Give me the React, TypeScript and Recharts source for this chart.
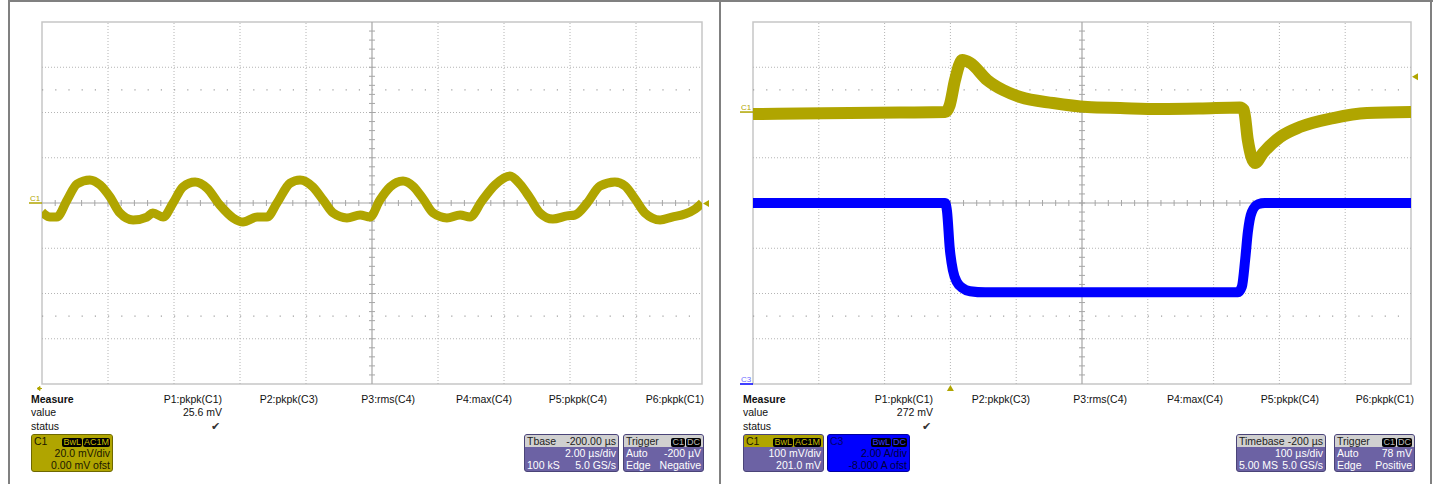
import { LineChart, Line, XAxis, YAxis, ReferenceLine, ReferenceArea, ReferenceDot } from 'recharts';

// left screen: C1, 2 µs/div, 20 mV/div
const leftTime = [
  0, 0.24, 0.45, 0.76, 1.06, 1.45, 1.76, 2.06, 2.36, 2.76, 3.18, 3.36, 3.67, 3.97, 4.27, 4.64, 5.0, 5.39, 5.79, 6.09,
  6.52, 6.82, 7.12, 7.52, 7.82, 8.21, 8.52, 8.82, 9.24, 9.64, 9.94, 10.24, 10.55, 10.94, 11.24, 11.55, 11.85, 12.27, 12.67, 12.97,
  13.33, 13.73, 14.18, 14.48, 14.79, 15.09, 15.48, 15.91, 16.15, 16.52, 16.91, 17.36, 17.67, 17.97, 18.27, 18.73, 19.09, 19.48, 19.79, 20,
];
const leftC1 = [
  -4.0, -6.2, -6.2, 1.3, 8.4, 10.2, 8.0, 2.7, -4.4, -7.5, -6.2, -4.4, -6.2, 0, 7.1, 9.3, 6.6, -0.9, -6.6, -8.4,
  -6.2, -6.2, 0, 8.8, 10.2, 7.1, 1.3, -4.4, -6.6, -5.3, -6.2, 1.3, 7.1, 9.7, 7.5, 1.8, -4.4, -6.6, -5.3, -6.2,
  0.9, 8.0, 11.9, 8.4, 2.2, -4.4, -7.1, -5.7, -5.3, 0, 7.5, 9.3, 7.5, 1.8, -4.4, -7.5, -6.2, -4.9, -2.7, 0,
];

// right screen: C1 (mV) and C3 (A), 100 µs/div
const rightC1Time = [-300, -229, -153, -77, -8, -1, 7, 18, 30, 56, 80, 106, 156, 208, 258, 319, 379, 440, 446, 452, 463, 475, 501, 531, 582, 633, 700];
const rightC1 = [-4.4, -3.3, -2.2, -1.1, 0, 15.5, 70.7, 115, 108.6, 70.7, 48.6, 33.2, 19.9, 11, 8.8, 6.6, 7.7, 9.9, 4.4, -61.9, -112.7, -90.6, -55.3, -33.2, -13.3, -2.2, 0];
const rightC3Time = [-300, -8, -5, -1, 4, 10, 18, 30, 53, 227, 437, 443, 448, 452, 458, 468, 478, 700];
const rightC3 = [8.0, 8.0, 7.6, 6.0, 5.0, 4.5, 4.25, 4.1, 4.05, 4.05, 4.05, 4.3, 5.5, 6.7, 7.6, 7.95, 8.0, 8.0];

const measureNames = ['P1:pkpk(C1)', 'P2:pkpk(C3)', 'P3:rms(C4)', 'P4:max(C4)', 'P5:pkpk(C4)', 'P6:pkpk(C1)'];
const leftValue = '25.6 mV';
const rightValue = '272 mV';

const OLIVE = '#b0a500';
const BLUE = '#0000ff';
const PURPLE = '#6c62a4';
const GRID = '#b4b4b4';
const AXIS = '#a6a6a6';
const FONT = '"Liberation Sans", Arial, sans-serif';

const leftData = leftTime.map((t, i) => ({ t, v: leftC1[i] }));
const rC1Data = rightC1Time.map((t, i) => ({ t, v: rightC1[i] }));
const rC3Data = rightC3Time.map((t, i) => ({ t, v: rightC3[i] }));

const steps = (from: number, to: number, step: number) => {
  const out: number[] = [];
  const n = Math.round((to - from) / step);
  for (let i = 0; i <= n; i++) out.push(+(from + i * step).toFixed(4));
  return out;
};

// scope graticule drawn with reference lines
const graticule = (
  xd: [number, number], yd: [number, number], yAxisId: string | number,
  xDiv: number, yDiv: number, pxX: number, pxY: number,
) => {
  const xc = (xd[0] + xd[1]) / 2;
  const yc = (yd[0] + yd[1]) / 2;
  const hx = (3 / pxX) * xDiv;
  const hy = (3 / pxY) * yDiv;
  const inner = (a: number[]) => a.slice(1, -1);
  return [
    <ReferenceArea key='frame' yAxisId={yAxisId} x1={xd[0]} x2={xd[1]} y1={yd[0]} y2={yd[1]} fill='none' stroke='#c6c6c6' strokeWidth={1.5} />,
    ...inner(steps(xd[0], xd[1], xDiv)).filter(x => Math.abs(x - xc) > 1e-6).map(x => (
      <ReferenceLine key={'gx' + x} yAxisId={yAxisId} x={x} stroke={GRID} strokeDasharray='1 2' />
    )),
    ...inner(steps(yd[0], yd[1], yDiv)).filter(y => Math.abs(y - yc) > 1e-6).map(y => (
      <ReferenceLine key={'gy' + y} yAxisId={yAxisId} y={y} stroke={GRID} strokeDasharray='1 2' />
    )),
    ...[yc - 2.5 * yDiv, yc + 2.5 * yDiv].map(y => (
      <ReferenceLine key={'dots' + y} yAxisId={yAxisId} y={y} stroke='#a0a0a0' strokeWidth={1.2} strokeDasharray={`1.2 ${pxX / 5 - 1.2}`} />
    )),
    <ReferenceLine key='cx' yAxisId={yAxisId} x={xc} stroke={AXIS} strokeWidth={1.2} />,
    <ReferenceLine key='cy' yAxisId={yAxisId} y={yc} stroke={AXIS} strokeWidth={1.2} />,
    ...inner(steps(xd[0], xd[1], xDiv / 5)).map(x => (
      <ReferenceLine key={'mx' + x} yAxisId={yAxisId} segment={[{ x, y: yc - hy }, { x, y: yc + hy }]} stroke={AXIS} />
    )),
    ...inner(steps(yd[0], yd[1], yDiv / 5)).map(y => (
      <ReferenceLine key={'my' + y} yAxisId={yAxisId} segment={[{ x: xc - hx, y }, { x: xc + hx, y }]} stroke={AXIS} />
    )),
  ];
};

const triLeft = (color: string) => (p: any) => (
  <path d={`M${p.cx + 1},${p.cy} L${p.cx + 7},${p.cy - 3.5} L${p.cx + 7},${p.cy + 3.5} Z`} fill={color} />
);
const triUp = (p: any) => (
  <path d={`M${p.cx},${p.cy + 1} L${p.cx - 3.5},${p.cy + 7} L${p.cx + 3.5},${p.cy + 7} Z`} fill={OLIVE} />
);
const chanMark = (name: string, color: string, textColor: string) => (p: any) => (
  <g>
    <text x={p.cx - 12} y={p.cy - 2} fontSize={8} fill={textColor} fontFamily={FONT}>{name}</text>
    <line x1={p.cx - 13} x2={p.cx} y1={p.cy} y2={p.cy} stroke={color} strokeWidth={1.5} />
  </g>
);
const arrowLeft = (p: any) => (
  <g fill={OLIVE} stroke={OLIVE}>
    <path d={`M${p.cx - 5},${p.cy + 4.5} L${p.cx - 2},${p.cy + 2.5} L${p.cx - 2},${p.cy + 6.5} Z`} />
    <line x1={p.cx - 3} x2={p.cx} y1={p.cy + 4.5} y2={p.cy + 4.5} strokeWidth={1} />
  </g>
);

const LeftScope = () => (
  <LineChart width={720} height={400} margin={{ top: 22, right: 18, bottom: 16, left: 42 }} data={leftData}>
    <XAxis dataKey='t' type='number' domain={[0, 20]} hide allowDataOverflow />
    <YAxis yAxisId='c1' type='number' domain={[-80, 80]} hide allowDataOverflow />
    {graticule([0, 20], [-80, 80], 'c1', 2, 20, 66, 45.25)}
    <Line yAxisId='c1' dataKey='v' type='monotone' stroke={OLIVE} strokeWidth={9} strokeLinejoin='round' dot={false} isAnimationActive={false} />
    <ReferenceDot yAxisId='c1' x={20} y={-0.2} r={0} shape={triLeft(OLIVE)} />
    <ReferenceDot yAxisId='c1' x={0} y={0} r={0} shape={chanMark('C1', OLIVE, OLIVE)} />
    <ReferenceDot yAxisId='c1' x={0} y={-80} r={0} shape={arrowLeft} />
  </LineChart>
);

const RightScope = () => (
  <LineChart width={717} height={400} margin={{ top: 22, right: 26, bottom: 16, left: 33 }}>
    <XAxis dataKey='t' type='number' domain={[-300, 700]} hide allowDataOverflow />
    <YAxis yAxisId='c1' type='number' domain={[-601, 199]} hide allowDataOverflow />
    <YAxis yAxisId='c3' type='number' domain={[0, 16]} hide allowDataOverflow />
    {graticule([-300, 700], [-601, 199], 'c1', 100, 100, 65.8, 45.25)}
    <Line yAxisId='c1' data={rC1Data} dataKey='v' type='monotone' stroke={OLIVE} strokeWidth={12} strokeLinejoin='round' dot={false} isAnimationActive={false} />
    <Line yAxisId='c3' data={rC3Data} dataKey='v' type='monotone' stroke={BLUE} strokeWidth={10} strokeLinejoin='round' dot={false} isAnimationActive={false} />
    <ReferenceDot yAxisId='c1' x={700} y={78} r={0} shape={triLeft(OLIVE)} />
    <ReferenceDot yAxisId='c1' x={0} y={-601} r={0} shape={triUp} />
    <ReferenceDot yAxisId='c1' x={-300} y={0} r={0} shape={chanMark('C1', OLIVE, OLIVE)} />
    <ReferenceDot yAxisId='c3' x={-300} y={0} r={0} shape={chanMark('C3', BLUE, '#6a6aff')} />
  </LineChart>
);

const abs = (left: number, top: number, extra: object = {}) => ({ position: 'absolute' as const, left, top, ...extra });

const Measure = ({ x, ends, value }: { x: number; ends: number[]; value: string }) => (
  <>
    <div style={abs(x, 393, { fontWeight: 'bold', lineHeight: '13px' })}>Measure</div>
    <div style={abs(x, 406, { lineHeight: '13px' })}>value</div>
    <div style={abs(x, 419.5, { lineHeight: '13px' })}>status</div>
    {measureNames.map((n, i) => (
      <div key={n} style={abs(ends[i] - 100, 393, { width: 100, textAlign: 'right', lineHeight: '13px' })}>{n}</div>
    ))}
    <div style={abs(ends[0] - 100, 406, { width: 100, textAlign: 'right', lineHeight: '13px' })}>{value}</div>
    <div style={abs(ends[0] - 102, 419.5, { width: 100, textAlign: 'right', lineHeight: '13px', color: '#333' })}>✔</div>
  </>
);

type BoxProps = {
  x: number; w: number; bg: string; color: string; border: string;
  headBg: string; headColor: string; head: string; headRight?: string;
  badges?: string[]; badgeColor?: string; rows: [string, string][];
};

const InfoBox = (p: BoxProps) => (
  <div style={abs(p.x, 434, { width: p.w, height: 38, background: p.bg, color: p.color, borderRadius: 3, overflow: 'hidden', boxSizing: 'border-box', border: `1px solid ${p.border}` })}>
    <div style={{ height: 12, lineHeight: '12px', background: p.headBg, color: p.headColor, display: 'flex', justifyContent: 'space-between', padding: '0 2px' }}>
      <span>{p.head}</span>
      <span>
        {p.headRight}
        {p.badges?.map(b => (
          <span key={b} style={{ display: 'inline-block', background: '#000', color: p.badgeColor, fontSize: 9, lineHeight: '9px', padding: '0 1px', marginLeft: 1, borderRadius: 2, verticalAlign: 'middle' }}>{b}</span>
        ))}
      </span>
    </div>
    {p.rows.map((r, i) => (
      <div key={i} style={{ height: 12, lineHeight: '12px', display: 'flex', justifyContent: 'space-between', padding: '0 2px' }}>
        <span>{r[0]}</span>
        <span>{r[1]}</span>
      </div>
    ))}
  </div>
);

const grayBar = (left: number, top: number, width: number, height: number) => (
  <div style={abs(left, top, { width, height, background: '#808080' })} />
);

export default function App() {
  return (
    <div style={{ position: 'absolute', left: 0, top: 0, width: 1437, height: 484, background: '#fff', fontFamily: FONT, fontSize: 10.5, color: '#111' }}>
      {grayBar(8, 0, 1425, 2)}
      {grayBar(8, 0, 2, 484)}
      {grayBar(719, 0, 2, 484)}
      {grayBar(1430, 0, 2, 484)}
      <div style={abs(0, 0)}><LeftScope /></div>
      <div style={abs(720, 0)}><RightScope /></div>

      <Measure x={31} ends={[222, 318, 415, 512, 607, 704]} value={leftValue} />
      <Measure x={743} ends={[933, 1030, 1127, 1223, 1319, 1414]} value={rightValue} />

      <InfoBox x={31} w={82} bg={OLIVE} color='#1a1800' border='#6e6800' headBg={OLIVE} headColor='#1a1800' head='C1'
        badges={['BwL', 'AC1M']} badgeColor='#c8bc00' rows={[['', '20.0 mV/div'], ['', '0.00 mV ofst']]} />
      <InfoBox x={524} w={95} bg={PURPLE} color='#fff' border='#4a4478' headBg='#d0d0d0' headColor='#222' head='Tbase' headRight='-200.00 µs'
        rows={[['', '2.00 µs/div'], ['100 kS', '5.0 GS/s']]} />
      <InfoBox x={623} w={81} bg={PURPLE} color='#fff' border='#4a4478' headBg='#d0d0d0' headColor='#222' head='Trigger'
        badges={['C1', 'DC']} badgeColor='#bbb' rows={[['Auto', '-200 µV'], ['Edge', 'Negative']]} />

      <InfoBox x={743} w={81} bg={PURPLE} color='#fff' border='#4a4478' headBg={OLIVE} headColor='#1a1800' head='C1'
        badges={['BwL', 'AC1M']} badgeColor='#c8bc00' rows={[['', '100 mV/div'], ['', '201.0 mV']]} />
      <InfoBox x={827} w={83} bg={BLUE} color='#000040' border='#0000a0' headBg={BLUE} headColor='#000070' head='C3'
        badges={['BwL', 'DC']} badgeColor='#3a3aff' rows={[['', '2.00 A/div'], ['', '-8.000 A ofst']]} />
      <InfoBox x={1236} w={90} bg={PURPLE} color='#fff' border='#4a4478' headBg='#d0d0d0' headColor='#222' head='Timebase' headRight='-200 µs'
        rows={[['', '100 µs/div'], ['5.00 MS', '5.0 GS/s']]} />
      <InfoBox x={1334} w={81} bg={PURPLE} color='#fff' border='#4a4478' headBg='#d0d0d0' headColor='#222' head='Trigger'
        badges={['C1', 'DC']} badgeColor='#bbb' rows={[['Auto', '78 mV'], ['Edge', 'Positive']]} />
    </div>
  );
}
